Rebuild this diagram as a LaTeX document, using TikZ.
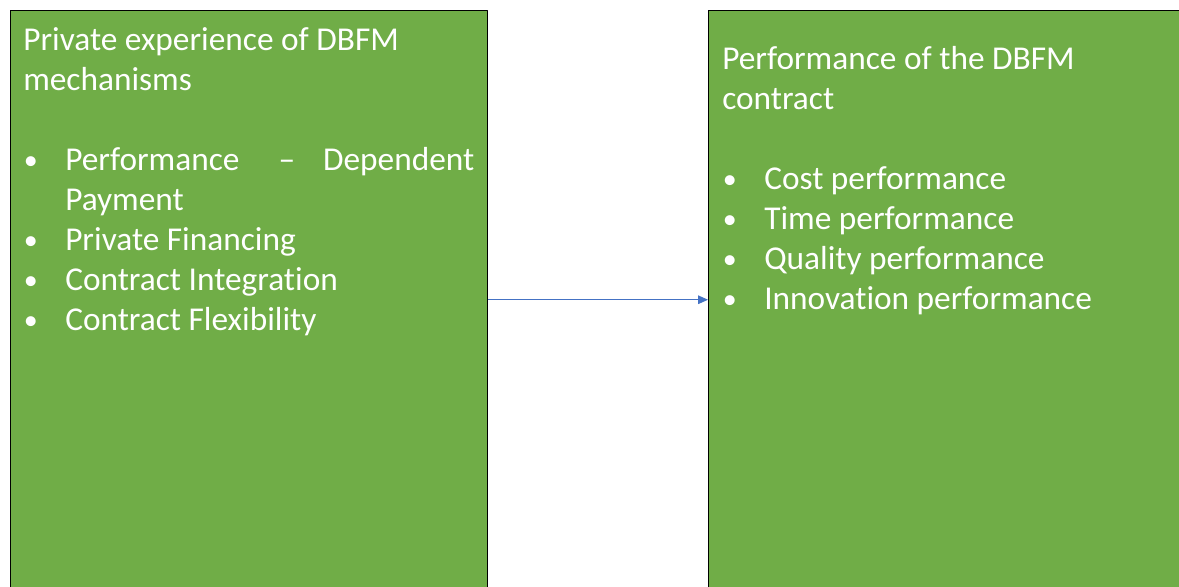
\documentclass[tikz,border=0pt]{standalone}
\usepackage{fontspec}
\setmainfont{Carlito}[Ligatures=NoCommon]
\usepackage{enumitem}
\usetikzlibrary{arrows.meta}
\definecolor{boxgreen}{RGB}{112,173,71}
\definecolor{arrowblue}{RGB}{68,114,196}
\setlist[itemize]{label={\hspace{0.5pt}\raisebox{0.6pt}{\fontsize{21}{21}\selectfont\textbullet}}, align=left, leftmargin=31.5pt, labelwidth=31.5pt, labelsep=0pt, labelindent=0pt, topsep=30pt, partopsep=0pt, itemsep=0pt, parsep=0pt}

\begin{document}
\begin{tikzpicture}[line cap=round,line join=round,>={Triangle[length=7.5pt,width=6.5pt]},x=0.75pt,y=0.75pt,
	gbox/.style={draw=black, fill=boxgreen, line width=1.1pt, minimum width=357.75pt, minimum height=433.5pt, inner sep=0pt},
	btext/.style={text=white, inner sep=0pt, font=\fontsize{25}{30}\selectfont, anchor=base west}]
		\useasboundingbox (0,0) rectangle (1179,-586);
		\clip (0,0) rectangle (1179,-586);
		%boite 1
		\node[gbox, anchor=north west] (priv) at (10,-10) {};
		\node[btext] (privtxt) at (23,-50) {\parbox[t]{338.25pt}{%
			Private experience of DBFM\\ mechanisms
			\begin{itemize}
				\item Performance \,\,– Dependent\linebreak Payment
				\item Private Financing
				\item Contract Integration
				\item Contract Flexibility
			\end{itemize}}};
		%boite 2
		\node[gbox, anchor=north west] (perf) at (708,-10) {};
		\node[btext] (perftxt) at (722,-69) {\parbox[t]{338.25pt}{%
			Performance of the DBFM\\ contract
			\begin{itemize}
				\item Cost performance
				\item Time performance
				\item Quality performance
				\item Innovation performance
			\end{itemize}}};
		%fleche
		\draw[->, arrowblue, line width=0.75pt] (priv.east) -- (perf.west);
\end{tikzpicture}
\end{document}
